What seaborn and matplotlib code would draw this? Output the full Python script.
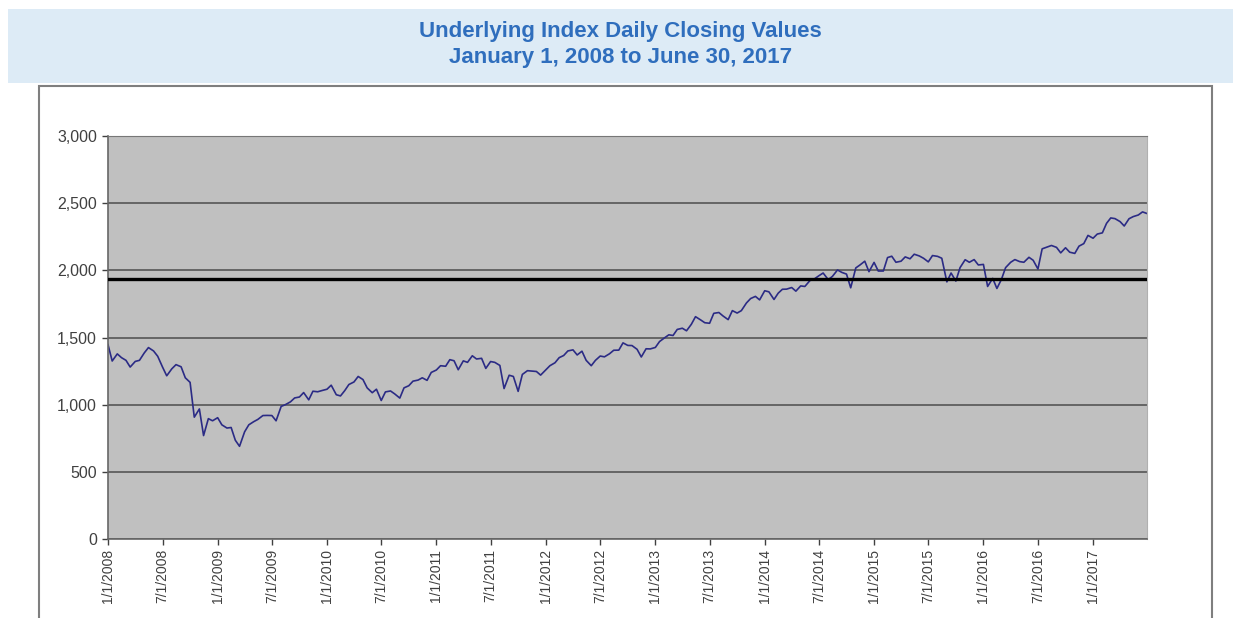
import pandas as pd
import matplotlib
matplotlib.use("Agg")
import matplotlib.pyplot as plt
from matplotlib.patches import Rectangle
import seaborn as sns

# Semi-monthly readings (1st and 15th of each month)
values_2008 = [1447, 1325, 1378, 1350, 1330, 1280, 1322, 1330, 1385, 1425, 1400, 1360,
               1280, 1215, 1267, 1298, 1282, 1200, 1166, 907, 968, 770, 896, 880]
values_2009 = [903, 850, 826, 830, 735, 690, 798, 850, 873, 890, 919, 920,
               919, 880, 987, 1000, 1021, 1050, 1057, 1090, 1036, 1100, 1096, 1105]
values_2010 = [1115, 1145, 1074, 1065, 1104, 1150, 1169, 1210, 1187, 1125, 1089, 1115,
               1031, 1095, 1102, 1080, 1049, 1125, 1141, 1175, 1183, 1200, 1181, 1240]
values_2011 = [1258, 1290, 1286, 1335, 1327, 1260, 1326, 1315, 1364, 1340, 1345, 1270,
               1321, 1315, 1292, 1120, 1219, 1210, 1099, 1225, 1253, 1250, 1247, 1220]
values_2012 = [1258, 1290, 1312, 1350, 1366, 1400, 1408, 1370, 1398, 1330, 1290, 1330,
               1362, 1356, 1379, 1405, 1406, 1460, 1441, 1440, 1412, 1355, 1416, 1415]
values_2013 = [1426, 1470, 1498, 1520, 1515, 1560, 1569, 1550, 1598, 1655, 1631, 1610,
               1606, 1680, 1686, 1660, 1633, 1700, 1682, 1700, 1757, 1790, 1806, 1780]
values_2014 = [1848, 1840, 1783, 1830, 1859, 1860, 1872, 1845, 1884, 1880, 1924, 1935,
               1960, 1980, 1931, 1955, 2003, 1985, 1972, 1870, 2018, 2040, 2068, 1990]
values_2015 = [2059, 1995, 1995, 2095, 2105, 2060, 2068, 2100, 2086, 2120, 2107, 2090,
               2063, 2110, 2104, 2090, 1914, 1980, 1920, 2020, 2079, 2060, 2080, 2040]
values_2016 = [2044, 1880, 1940, 1865, 1932, 2020, 2060, 2080, 2065, 2060, 2097, 2075,
               2010, 2160, 2174, 2185, 2171, 2130, 2168, 2135, 2126, 2180, 2199, 2260]
values_2017 = [2239, 2270, 2279, 2350, 2390, 2385, 2363, 2330, 2384, 2400, 2412, 2435, 2423]

closing = (values_2008 + values_2009 + values_2010 + values_2011 + values_2012 +
           values_2013 + values_2014 + values_2015 + values_2016 + values_2017)
dates = list(pd.date_range("2008-01-01", "2017-06-15", freq="SMS")) + [pd.Timestamp("2017-06-30")]

reference_level = 1935
y_ticks = [0, 500, 1000, 1500, 2000, 2500, 3000]
x_ticks = list(pd.date_range("2008-01-01", "2017-01-01", freq="6MS"))

title_lines = ["Underlying Index Daily Closing Values", "January 1, 2008 to June 30, 2017"]

df = pd.DataFrame({"date": dates, "close": closing})

plt.rcParams["font.family"] = ["Liberation Sans", "DejaVu Sans"]

fig = plt.figure(figsize=(12.33, 6.18), dpi=100)
W, H = 1233, 618

# title band
fig.patches.append(Rectangle((8 / W, 1 - 83 / H), 1 - 8 / W, 74 / H,
                             transform=fig.transFigure, facecolor="#DDEBF6",
                             edgecolor="none", zorder=-2))
fig.text(0.503, 1 - 31 / H, title_lines[0], ha="center", va="center",
         fontsize=16, fontweight="bold", color="#2F6EBD")
fig.text(0.503, 1 - 57 / H, title_lines[1], ha="center", va="center",
         fontsize=16, fontweight="bold", color="#2F6EBD")

# chart frame
fig.patches.append(Rectangle((39 / W, -0.05), (1212 - 39) / W, 1 - 86 / H + 0.05,
                             transform=fig.transFigure, facecolor="white",
                             edgecolor="#7F7F7F", linewidth=1.5, zorder=-2))

ax = fig.add_axes([108 / W, 1 - 539 / H, (1147 - 108) / W, (539 - 136) / H])
ax.set_zorder(2)
ax.set_facecolor("#C0C0C0")

sns.lineplot(data=df, x="date", y="close", ax=ax, color="#2B2B85", linewidth=1.2)
ax.axhline(reference_level, color="black", linewidth=2.4, zorder=3)

ax.set_ylim(0, 3000)
ax.set_xlim(pd.Timestamp("2008-01-01"), pd.Timestamp("2017-06-30"))
ax.set_yticks(y_ticks)
ax.set_yticklabels([f"{v:,}" for v in y_ticks])
ax.set_xticks(x_ticks)
ax.set_xticklabels([f"{d.month}/{d.day}/{d.year}" for d in x_ticks], rotation=90)

ax.yaxis.grid(True, color="#5E5E5E", linewidth=1.3)
ax.xaxis.grid(False)
ax.set_axisbelow(True)
ax.tick_params(axis="both", colors="#404040", length=4, width=1, direction="out")
ax.tick_params(axis="y", labelsize=11.5, pad=4)
ax.tick_params(axis="x", labelsize=10, pad=3)

for side in ["left", "bottom"]:
    ax.spines[side].set_color("#666666")
    ax.spines[side].set_linewidth(1.2)
ax.spines["top"].set_color("#777777")
ax.spines["right"].set_color("#B0B0B0")

ax.set_xlabel("")
ax.set_ylabel("")

plt.savefig("out.png", dpi=100)
